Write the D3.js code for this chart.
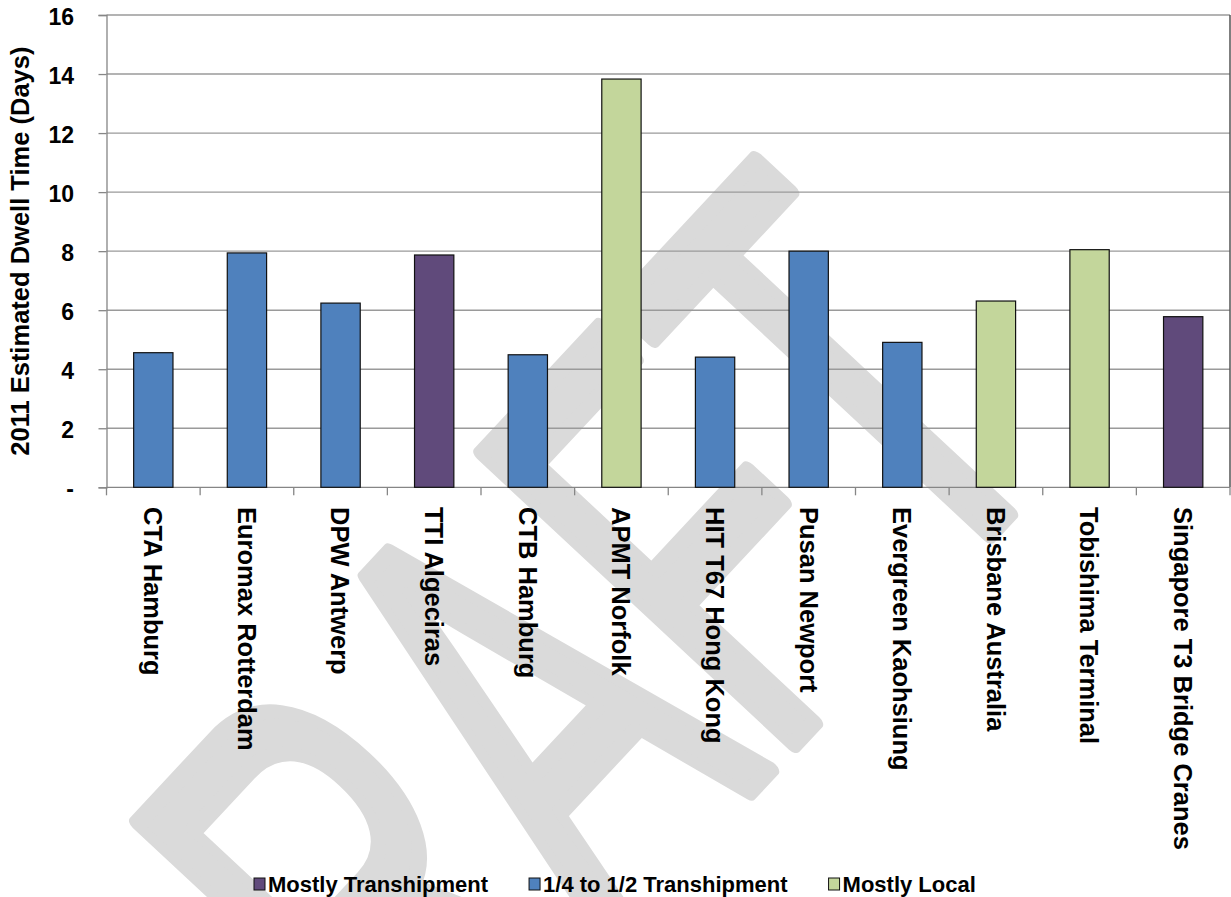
<!DOCTYPE html>
<html>
<head>
<meta charset="utf-8">
<script src="https://cdn.jsdelivr.net/npm/d3@7"></script>
<style>
  body { margin: 0; background: #fff; }
  svg text { font-family: "Liberation Sans", Arial, sans-serif; font-weight: bold; fill: #000; }
</style>
</head>
<body>
<svg id="chart" width="1231" height="897"></svg>
<script>
// terminals, left to right
const terminals = [
  "CTA Hamburg", "Euromax Rotterdam", "DPW Antwerp", "TTI Algeciras",
  "CTB Hamburg", "APMT Norfolk", "HIT T67 Hong Kong", "Pusan Newport",
  "Evergreen Kaohsiung", "Brisbane Australia", "Tobishima Terminal",
  "Singapore T3 Bridge Cranes"
];
// 2011 estimated dwell time (days)
const dwellDays = [4.56, 7.94, 6.24, 7.87, 4.49, 13.83, 4.41, 8.0, 4.91, 6.31, 8.05, 5.78];
// transhipment group of each terminal
const terminalGroup = [
  "1/4 to 1/2 Transhipment", "1/4 to 1/2 Transhipment", "1/4 to 1/2 Transhipment", "Mostly Transhipment",
  "1/4 to 1/2 Transhipment", "Mostly Local", "1/4 to 1/2 Transhipment", "1/4 to 1/2 Transhipment",
  "1/4 to 1/2 Transhipment", "Mostly Local", "Mostly Local", "Mostly Transhipment"
];
const groups      = ["Mostly Transhipment", "1/4 to 1/2 Transhipment", "Mostly Local"];
const groupColors = ["#604a7b", "#4f81bd", "#c3d69b"];
const yTicks      = [0, 2, 4, 6, 8, 10, 12, 14, 16];
const yTickLabels = ["-", "2", "4", "6", "8", "10", "12", "14", "16"];

const svg = d3.select("#chart");

// plot area
const plotLeft = 106.5, plotRight = 1230, plotTop = 15, plotBottom = 487.3;

const x = d3.scaleBand()
  .domain(terminals)
  .range([plotLeft, plotRight])
  .paddingInner(0.58)
  .paddingOuter(0.29);

const y = d3.scaleLinear()
  .domain([0, 16])
  .range([plotBottom, plotTop]);

const color = d3.scaleOrdinal().domain(groups).range(groupColors);

// DRAFT watermark (behind everything)
svg.append("text")
  .attr("transform", "translate(1075,443) rotate(-47) scale(0.586,1)")
  .attr("text-anchor", "end")
  .style("font-size", "620px")
  .style("font-weight", "normal")
  .style("fill", "#dadada")
  .style("stroke", "#dadada")
  .style("stroke-width", 18)
  .style("stroke-linejoin", "round")
  .text("DRAFT");

// gridlines
svg.append("g")
  .selectAll("line")
  .data(yTicks.slice(1))
  .enter()
  .append("line")
    .attr("x1", plotLeft)
    .attr("x2", plotRight)
    .attr("y1", d => y(d))
    .attr("y2", d => y(d))
    .attr("stroke", "#9a9a9a")
    .attr("stroke-width", 1.4);

// right border
svg.append("line")
  .attr("x1", plotRight).attr("x2", plotRight)
  .attr("y1", plotTop).attr("y2", plotBottom)
  .attr("stroke", "#555")
  .attr("stroke-width", 1.5);

// Y axis
const yAxis = svg.append("g")
  .attr("transform", `translate(${plotLeft},0)`)
  .call(d3.axisLeft(y)
    .tickValues(yTicks)
    .tickSize(8)
    .tickPadding(24.5)
    .tickFormat((d, i) => yTickLabels[i]));
yAxis.select(".domain").attr("stroke", "#868686").attr("stroke-width", 1.3);
yAxis.selectAll(".tick line").attr("stroke", "#868686").attr("stroke-width", 1.3);
yAxis.selectAll(".tick text")
  .style("font-size", "23px")
  .attr("dy", "0.4em");

// X axis line + category ticks
const xAxis = svg.append("g");
xAxis.append("line")
  .attr("x1", plotLeft).attr("x2", plotRight)
  .attr("y1", plotBottom).attr("y2", plotBottom)
  .attr("stroke", "#868686")
  .attr("stroke-width", 1.3);
const step = x.step();
xAxis.selectAll(".cat-tick")
  .data(d3.range(terminals.length + 1))
  .enter()
  .append("line")
    .attr("class", "cat-tick")
    .attr("x1", i => plotLeft + i * step)
    .attr("x2", i => plotLeft + i * step)
    .attr("y1", plotBottom)
    .attr("y2", plotBottom + 8)
    .attr("stroke", "#868686")
    .attr("stroke-width", 1.3);

// bars
svg.append("g")
  .selectAll("rect")
  .data(terminals)
  .enter()
  .append("rect")
    .attr("x", d => x(d))
    .attr("width", x.bandwidth())
    .attr("y", (d, i) => y(dwellDays[i]))
    .attr("height", (d, i) => y(0) - y(dwellDays[i]))
    .attr("fill", (d, i) => color(terminalGroup[i]))
    .attr("stroke", "#111")
    .attr("stroke-width", 1.2);

// category labels (rotated, reading downward)
svg.append("g")
  .selectAll("text")
  .data(terminals)
  .enter()
  .append("text")
    .attr("transform", d => `translate(${x(d) + x.bandwidth() / 2},507) rotate(90)`)
    .attr("dy", "0.36em")
    .style("font-size", "25.5px")
    .text(d => d);

// Y axis title
svg.append("text")
  .attr("transform", `translate(29,${(plotTop + plotBottom) / 2}) rotate(-90)`)
  .attr("text-anchor", "middle")
  .style("font-size", "25.5px")
  .text("2011 Estimated Dwell Time (Days)");

// legend
const legend = svg.append("g").attr("transform", "translate(254,884)");
let lx = 0;
groups.forEach((g, i) => {
  const item = legend.append("g").attr("transform", `translate(${lx},0)`);
  item.append("rect")
    .attr("x", 0).attr("y", -6)
    .attr("width", 11).attr("height", 12)
    .attr("fill", groupColors[i])
    .attr("stroke", "#111")
    .attr("stroke-width", 1);
  const t = item.append("text")
    .attr("x", 14)
    .attr("y", 8)
    .style("font-size", "22px")
    .text(g);
  lx += 14 + t.node().getComputedTextLength() + 41;
});
</script>
</body>
</html>
